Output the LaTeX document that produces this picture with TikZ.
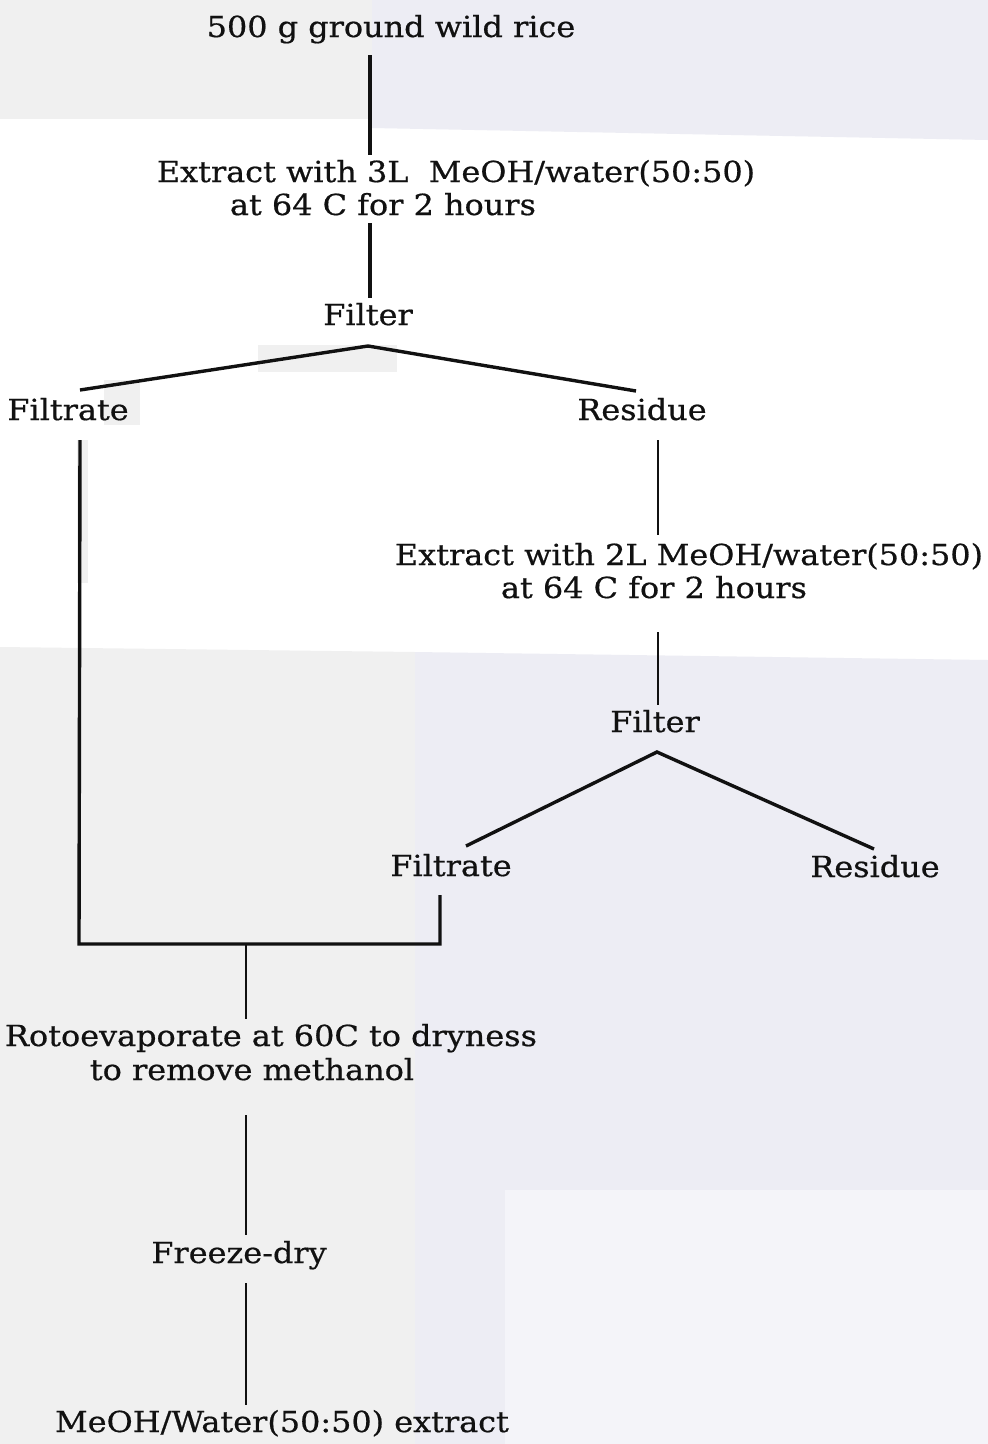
\documentclass[tikz,border=0pt]{standalone}
\usepackage{fontspec}
\setmainfont{DejaVu Serif}[FakeStretch=1.1, FakeBold=0.6]
\usetikzlibrary{calc}
\definecolor{scangray}{HTML}{F0F0F0}
\definecolor{scanlav}{HTML}{EDEDF4}
\definecolor{scanlite}{HTML}{F4F4F9}
\definecolor{ink}{HTML}{111111}
\tikzset{
  lbl/.style={anchor=base, inner sep=0pt, text height=21pt, text depth=7pt,
    font=\fontsize{29}{34}\selectfont, text=ink},
  thick line/.style={draw=ink, line width=3.4pt},
  thin line/.style={draw=ink, line width=2.5pt},
}
\begin{document}
\begin{tikzpicture}[x=1pt, y=-1pt]
\useasboundingbox (0,0) rectangle (988,1444);
% scan background
\fill[white] (0,0) rectangle (988,1444);
\fill[scangray] (0,0) rectangle (372,119);
\fill[scanlav] (372,0) -- (988,0) -- (988,140) -- (372,128) -- cycle;
\fill[scangray] (0,647) -- (415,652) -- (415,1444) -- (0,1444) -- cycle;
\fill[scanlav] (415,652) -- (988,660) -- (988,1444) -- (415,1444) -- cycle;
\fill[scanlite] (505,1190) rectangle (988,1444);
\fill[scangray] (258,345) rectangle (397,372);
\fill[scangray] (104,380) rectangle (140,425);
\fill[scangray] (77,440) rectangle (88,583);

% nodes
\node[lbl] (rice) at (391,37) {500 g ground wild rice};
\node[lbl] (e1a) at (456,182) {Extract with 3L\ \ MeOH/water(50:50)};
\node[lbl] (e1b) at (383,215) {at 64 C for 2 hours};
\node[lbl] (f1) at (368,325) {Filter};
\node[lbl] (fl1) at (68,420) {Filtrate};
\node[lbl] (rs1) at (642,420) {Residue};
\node[lbl] (e2a) at (689,565) {Extract with 2L MeOH/water(50:50)};
\node[lbl] (e2b) at (654,598) {at 64 C for 2 hours};
\node[lbl] (f2) at (655,732) {Filter};
\node[lbl] (fl2) at (451,876) {Filtrate};
\node[lbl] (rs2) at (875,877) {Residue};
\node[lbl] (ro1) at (271,1046) {Rotoevaporate at 60C to dryness};
\node[lbl] (ro2) at (252,1080) {to remove methanol};
\node[lbl] (fd) at (239,1263) {Freeze-dry};
\node[lbl] (ext) at (282,1432) {MeOH/Water(50:50) extract};

% junction coordinates
\coordinate (ap1) at (368,346);
\coordinate (ap1l) at (80,390);
\coordinate (ap1r) at (636,391);
\coordinate (ap2) at (657,752);
\coordinate (ap2l) at (466,846);
\coordinate (ap2r) at (874,849);
\coordinate (jl) at (79,944);
\coordinate (jr) at (440,944);
\coordinate (jm) at (246,944);

% connectors
\draw[thick line, shorten <=11pt, shorten >=6pt] ($(rice.south -| f1.base)+(2,0)$) -- ($(e1a.north -| f1.base)+(2,0)$);
\draw[thick line, shorten <=1pt, shorten >=6pt] ($(e1b.south -| f1.base)+(2,0)$) -- ($(f1.north)+(2,0)$);
\draw[thick line] (ap1l) -- (ap1) -- (ap1r);
\draw[thick line] ($(fl1.south)+(12,13)$) -- (jl) -- (jr) -- ($(fl2.south)+(-11,12)$);
\draw[thin line] (jm) -- ($(ro1.north)+(-25,-6)$);
\draw[thin line] ($(rs1.south)+(16,13)$) -- ($(e2a.north)+(-31,-9)$);
\draw[thin line] ($(e2b.south)+(4,27)$) -- ($(f2.north)+(3,-6)$);
\draw[thick line] (ap2l) -- (ap2) -- (ap2r);
\draw[thin line] ($(ro2.south)+(-6,28)$) -- ($(fd.north)+(7,-7)$);
\draw[thin line] ($(fd.south)+(7,13)$) -- ($(ext.north)+(-36,-6)$);
\end{tikzpicture}
\end{document}
